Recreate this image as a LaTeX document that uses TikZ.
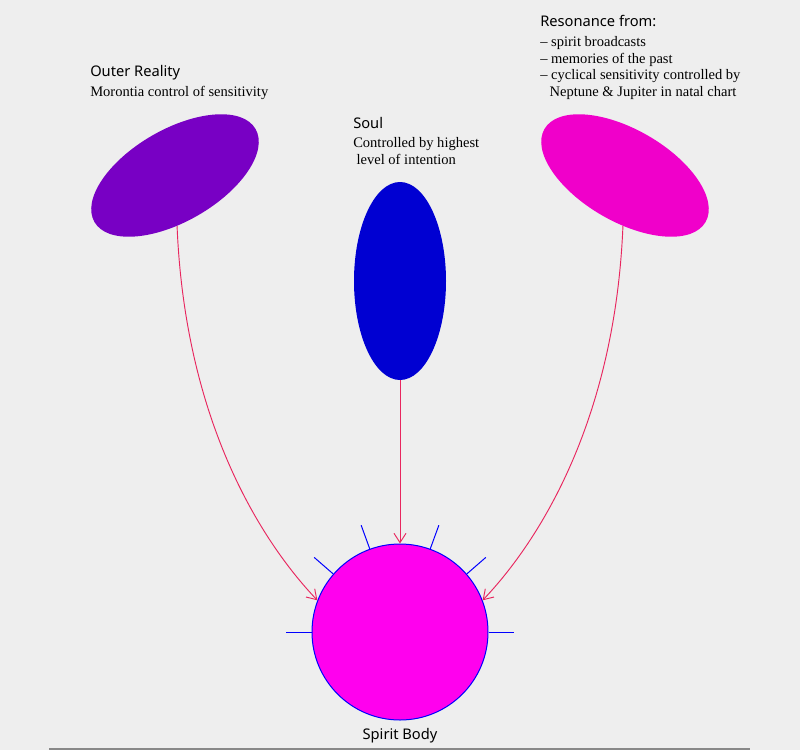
\documentclass[tikz,border=0pt]{standalone}
\usepackage{fontspec}
\setmainfont{Liberation Serif}
\newfontfamily\headfont{Noto Sans}
\usetikzlibrary{arrows.meta,positioning,calc,shapes.geometric}
\definecolor{bggray}{HTML}{EEEEEE}
\definecolor{outerpurple}{HTML}{7800C4}
\definecolor{soulblue}{HTML}{0000D2}
\definecolor{resmagenta}{HTML}{F000CA}
\definecolor{spiritpink}{HTML}{FF00EE}
\definecolor{arrred}{HTML}{E8265E}
\definecolor{rayblue}{HTML}{0000FF}
\definecolor{rulegray}{HTML}{888888}
\tikzset{
  blob/.style={ellipse,inner sep=0pt},
  headlbl/.style={font=\headfont\fontsize{11}{13}\selectfont,anchor=base west,inner sep=0pt},
  desclbl/.style={font=\fontsize{10.9}{12.3}\selectfont,anchor=base west,align=left,inner sep=0pt},
  arr/.style={-{Straight Barb[length=7pt,width=9pt]},draw=arrred,line width=0.7pt},
  ray/.style={draw=rayblue,line width=0.75pt}
}
\begin{document}
\begin{tikzpicture}[x=0.75pt,y=-0.75pt]
  \useasboundingbox (0,0) rectangle (800,750);
  \fill[bggray] (0,0) rectangle (800,750);
  \draw[rulegray,line width=1.5pt] (49,748.5) -- (750,748.5);

  % Outer Reality
  \node[blob,fill=outerpurple,minimum width=139.5pt,minimum height=69pt,rotate=30] (outer) at (175,175.5) {};
  \node[headlbl] (outerhd) at (90,76) {Outer Reality};
  \node[desclbl] (outerdsc) at (90,96) {Morontia control of sensitivity};

  % Soul
  \node[blob,fill=soulblue,minimum width=69pt,minimum height=148.5pt] (soul) at (400,281) {};
  \node[headlbl] (soulhd) at (353,128) {Soul};
  \node[desclbl] (souldsc) at (353,164) {Controlled by highest\\\hspace{2.5pt}level of intention};

  % Resonance
  \node[headlbl] (resonhd) at (540,26) {Resonance from:};
  \node[blob,fill=resmagenta,minimum width=139.5pt,minimum height=69pt,rotate=-30] (reson) at (625,175.5) {};
  \node[desclbl] (resondsc) at (540,96) {-- spirit broadcasts\\-- memories of the past\\-- cyclical sensitivity controlled by\\\hspace{7pt}Neptune \& Jupiter in natal chart};

  % Spirit Body
  \node[circle,fill=spiritpink,draw=rayblue,line width=0.75pt,minimum size=132pt,inner sep=0pt] (spirit) at (400,632) {};
  \node[headlbl,anchor=base] (spirithd) at (400,739) {Spirit Body};
  \foreach \a in {0,41,70,110,139,180}
    \draw[ray] (spirit.\a) -- ($(spirit.center)!1.284!(spirit.\a)$);

  % Connections
  \draw[arr] (outer) .. controls (185,420) and (260,540) .. (spirit.159);
  \draw[arr] (reson) .. controls (615,420) and (540,540) .. (spirit.21);
  \draw[arr] (soul) -- (spirit);
\end{tikzpicture}
\end{document}
